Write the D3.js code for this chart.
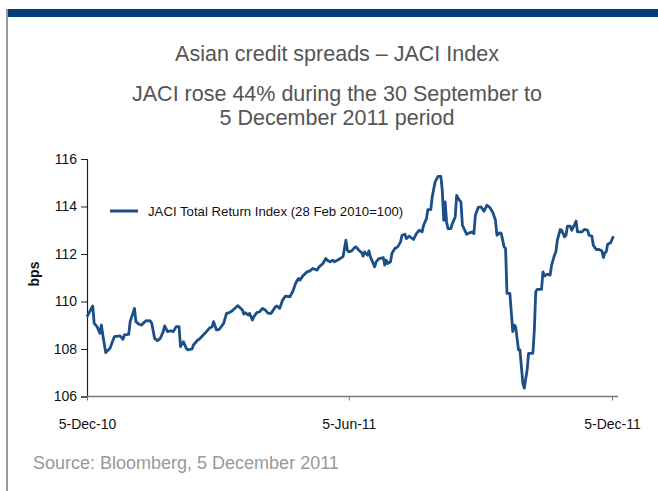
<!DOCTYPE html>
<html>
<head>
<meta charset="utf-8">
<script src="https://cdn.jsdelivr.net/npm/d3@7"></script>
<style>
  body { margin: 0; background: #fff; }
  text { font-family: "Liberation Sans", Arial, sans-serif; }
</style>
</head>
<body>
<div id="viz"></div>
<script>
// JACI Total Return Index
// days counted from 5-Dec-10
var dayOffsets = [0, 4, 5, 7, 9, 10, 11, 13, 16, 19, 23, 25, 26, 29, 30, 33, 34, 36, 38, 39,
  41, 44, 45, 47, 49, 51, 53, 54, 56, 58, 60, 62, 64, 65, 67, 69, 70, 73, 74, 77,
  78, 82, 85, 87, 88, 90, 92, 95, 97, 99, 101, 104, 105, 108, 109, 110, 112, 113, 115, 116,
  118, 120, 122, 124, 126, 128, 131, 132, 134, 136, 138, 141, 143, 145, 147, 148, 150, 153, 155, 157,
  160, 161, 162, 164, 166, 167, 169, 171, 172, 175, 177, 178, 180, 181, 182, 184, 186, 187, 189, 191,
  192, 193, 195, 196, 197, 198, 200, 201, 203, 206, 207, 208, 209, 211, 212, 214, 216, 218, 219, 221,
  222, 224, 227, 229, 231, 233, 234, 236, 237, 239, 240, 242, 244, 246, 247, 248, 249, 250, 251, 253,
  254, 256, 257, 259, 260, 261, 264, 266, 268, 269, 270, 272, 274, 276, 278, 280, 282, 284, 285, 287,
  288, 290, 291, 292, 294, 296, 297, 298, 300, 301, 303, 304, 306, 307, 310, 311, 312, 313, 316, 317,
  318, 320, 322, 323, 325, 326, 327, 329, 330, 332, 333, 334, 336, 337, 339, 340, 341, 344, 346, 348,
  349, 351, 352, 354, 356, 358, 359, 360, 361, 362, 364, 366];

var jaciValues = [109.36, 109.81, 109.08, 108.94, 108.66, 109.01, 108.59, 107.85, 108.03, 108.52,
  108.55, 108.41, 108.59, 108.62, 109.15, 109.71, 109.15, 109.05, 109.01, 109.08,
  109.19, 109.18, 109.08, 108.45, 108.35, 108.45, 108.73, 108.97, 108.73, 108.77,
  108.73, 108.94, 108.94, 108.10, 108.31, 108.03, 107.96, 108.00, 108.17, 108.38,
  108.41, 108.66, 108.87, 108.94, 109.15, 108.80, 108.83, 109.08, 109.50, 109.53,
  109.61, 109.78, 109.82, 109.64, 109.47, 109.53, 109.43, 109.50, 109.22, 109.36,
  109.53, 109.57, 109.71, 109.64, 109.50, 109.50, 109.78, 109.81, 109.71, 110.06,
  110.23, 110.20, 110.41, 110.76, 110.97, 110.90, 111.07, 111.25, 111.29, 111.39,
  111.32, 111.43, 111.49, 111.60, 111.81, 111.74, 111.67, 111.74, 111.67, 111.77,
  111.85, 111.88, 112.58, 112.16, 112.09, 112.13, 112.27, 112.30, 112.16, 112.05,
  111.91, 112.09, 111.95, 112.13, 111.88, 111.74, 111.46, 111.67, 111.81, 111.85,
  111.53, 111.74, 111.60, 111.67, 112.02, 112.23, 112.30, 112.51, 112.79, 112.83,
  112.65, 112.75, 112.61, 112.86, 113.00, 112.93, 113.21, 113.49, 113.87, 113.87,
  114.40, 115.03, 115.27, 115.27, 114.68, 113.42, 114.19, 113.35, 113.07, 113.07,
  113.28, 113.56, 114.47, 114.26, 114.19, 113.21, 112.83, 112.89, 112.93, 112.86,
  113.63, 113.96, 113.98, 113.80, 114.05, 113.96, 113.77, 113.42, 112.79, 112.89,
  112.86, 112.30, 112.23, 110.34, 110.34, 108.73, 109.01, 108.94, 107.96, 107.96,
  106.56, 106.35, 107.12, 107.82, 107.82, 108.80, 110.41, 110.51, 110.51, 111.25,
  111.07, 111.15, 111.11, 111.53, 111.95, 112.09, 112.58, 113.03, 113.00, 112.72,
  112.79, 113.17, 113.17, 113.00, 113.25, 113.39, 112.93, 112.93, 113.04, 113.00,
  112.79, 112.75, 112.37, 112.19, 112.19, 112.13, 111.85, 112.05, 112.09, 112.41,
  112.47, 112.75];

var yTicks = [106, 108, 110, 112, 114, 116];
var xTickLabels = ['5-Dec-10', '5-Jun-11', '5-Dec-11'];
var seriesName = 'JACI Total Return Index (28 Feb 2010=100)';

var width = 658,
    height = 491,
    margin = {left: 87, right: 46, top: 159, bottom: 95},
    lineColor = '#1c4e88';

var startDate = new Date(2010, 11, 5);
var parseTick = d3.timeParse('%d-%b-%y');

var data = dayOffsets.map(function(d, i){
  return {date: d3.timeDay.offset(startDate, d), value: jaciValues[i]};
});

var svg = d3.select('#viz').append('svg')
  .attr('width', width)
  .attr('height', height);

// frame: blue bar on top, grey rule on the left
svg.append('rect')
  .attr('x', 7).attr('y', 9)
  .attr('width', width - 7).attr('height', 8)
  .attr('fill', '#023a7a');
svg.append('rect')
  .attr('x', 6).attr('y', 9)
  .attr('width', 2).attr('height', height - 9)
  .attr('fill', '#9a9a9a');

// titles
var titles = [['Asian credit spreads \u2013 JACI Index', 61],
              ['JACI rose 44% during the 30 September to', 101],
              ['5 December 2011 period', 124.5]];
svg.selectAll('.title').data(titles)
  .enter().append('text')
  .attr('class', 'title')
  .attr('x', 337)
  .attr('y', function(d){ return d[1]; })
  .attr('text-anchor', 'middle')
  .attr('font-size', 21.5)
  .attr('fill', '#555')
  .text(function(d){ return d[0]; });

var xScale = d3.scaleTime()
  .domain([startDate, new Date(2011, 11, 5)])
  .range([margin.left, 612]);

var yScale = d3.scaleLinear()
  .domain([106, 116])
  .range([height - margin.bottom + 0.5, margin.top]);

// y axis
var yAxis = svg.append('g')
  .attr('transform', 'translate(' + margin.left + ',0)')
  .call(d3.axisLeft(yScale).tickValues(yTicks).tickSize(6).tickPadding(4).tickFormat(d3.format('d')));
yAxis.select('.domain').attr('stroke', '#222').attr('stroke-width', 1.2);
yAxis.selectAll('.tick line').attr('stroke', '#222');
yAxis.selectAll('text')
  .attr('font-size', 14)
  .attr('fill', '#111')
  .attr('font-family', '"Liberation Sans", Arial, sans-serif');

// x axis
var xAxis = svg.append('g')
  .attr('transform', 'translate(0,' + yScale(106) + ')')
  .call(d3.axisBottom(xScale)
    .tickValues(xTickLabels.map(parseTick))
    .tickSize(4)
    .tickPadding(19)
    .tickFormat(d3.timeFormat('%-d-%b-%y')));
xAxis.select('.domain')
  .attr('d', 'M' + margin.left + ',0H618')
  .attr('stroke', '#777').attr('stroke-width', 1.5);
xAxis.selectAll('.tick line').attr('stroke', '#777');
xAxis.selectAll('text')
  .attr('font-size', 14)
  .attr('fill', '#111')
  .attr('font-family', '"Liberation Sans", Arial, sans-serif');

// axis title
svg.append('text')
  .attr('transform', 'translate(38.5,274) rotate(-90)')
  .attr('text-anchor', 'middle')
  .attr('font-size', 14)
  .attr('font-weight', 'bold')
  .attr('fill', '#111')
  .text('bps');

// the line
var line = d3.line()
  .x(function(d){ return xScale(d.date); })
  .y(function(d){ return yScale(d.value); });

svg.append('path')
  .datum(data)
  .attr('fill', 'none')
  .attr('stroke', lineColor)
  .attr('stroke-width', 2.8)
  .attr('stroke-linejoin', 'round')
  .attr('d', line);

// legend
svg.append('line')
  .attr('x1', 110).attr('x2', 138)
  .attr('y1', 211).attr('y2', 211)
  .attr('stroke', lineColor)
  .attr('stroke-width', 3);
svg.append('text')
  .attr('x', 148).attr('y', 215.5)
  .attr('font-size', 13.2)
  .attr('fill', '#111')
  .text(seriesName);

// source note
svg.append('text')
  .attr('x', 33).attr('y', 469)
  .attr('font-size', 18)
  .attr('fill', '#999')
  .text('Source: Bloomberg, 5 December 2011');
</script>
</body>
</html>
